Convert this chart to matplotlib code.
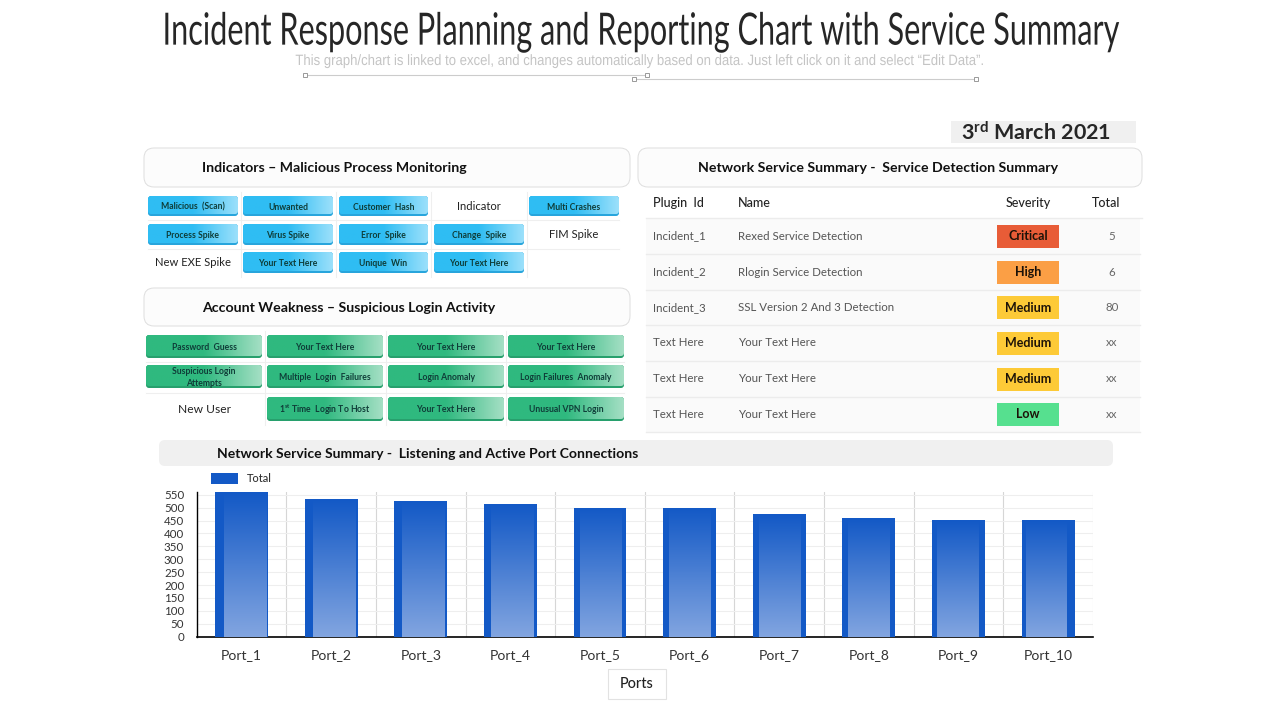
import matplotlib
matplotlib.use("Agg")
import matplotlib.pyplot as plt
import numpy as np
from matplotlib.colors import LinearSegmentedColormap
from matplotlib.patches import FancyBboxPatch, Rectangle
from matplotlib.patheffects import AbstractPathEffect
from matplotlib.transforms import Affine2D

plt.rcParams['font.family'] = ['Lato', 'DejaVu Sans']
plt.rcParams['mathtext.default'] = 'regular'

# Data
title = "Incident Response Planning and Reporting Chart with Service Summary"
subtitle = "This graph/chart is linked to excel, and changes automatically based on data. Just left click on it and select “Edit Data”."
date_label = "3$^{rd}$ March 2021"

ports = ["Port_1", "Port_2", "Port_3", "Port_4", "Port_5", "Port_6", "Port_7", "Port_8", "Port_9", "Port_10"]
totals = [562, 534, 527, 515, 500, 500, 476, 460, 452, 452]
y_ticks = list(range(0, 551, 50))

# "*" in front means plain text without a button
indicators = [
    ["Malicious  (Scan)", "Unwanted", "Customer  Hash", "*Indicator", "Multi Crashes"],
    ["Process Spike", "Virus Spike", "Error  Spike", "Change  Spike", "*FIM Spike"],
    ["*New EXE Spike", "Your Text Here", "Unique  Win", "Your Text Here", ""],
]
logins = [
    ["Password  Guess", "Your Text Here", "Your Text Here", "Your Text Here"],
    ["Suspicious Login\nAttempts", "Multiple  Login  Failures", "Login Anomaly", "Login Failures  Anomaly"],
    ["*New User", "1$^{st}$ Time  Login To Host", "Your Text Here", "Unusual VPN Login"],
]

table_header = ["Plugin  Id", "Name", "Severity", "Total"]
plugin_ids = ["Incident_1", "Incident_2", "Incident_3", "Text Here", "Text Here", "Text Here"]
names = ["Rexed Service Detection", "Rlogin Service Detection", "SSL Version 2 And 3 Detection",
         "Your Text Here", "Your Text Here", "Your Text Here"]
severity = ["Critical", "High", "Medium", "Medium", "Medium", "Low"]
table_totals = ["5", "6", "80", "xx", "xx", "xx"]
severity_colors = {"Critical": "#e85c37", "High": "#fb9f45", "Medium": "#fdca37", "Low": "#56e08f"}


class Squeeze(AbstractPathEffect):
    # No narrow font is installed, so reshape the glyphs around a pixel position
    def __init__(self, center_x, center_y, amount_x, amount_y=1):
        super().__init__()
        self.center = (center_x, center_y)
        self.amount = (amount_x, amount_y)

    def draw_path(self, renderer, gc, tpath, affine, rgbFace=None):
        cx, cy = self.center
        squeeze = Affine2D().translate(-cx, -cy).scale(*self.amount).translate(cx, cy)
        super().draw_path(renderer, gc, tpath, affine + squeeze, rgbFace)


fig = plt.figure(figsize=(12.8, 7.2), dpi=100, facecolor="white")

# Overlay in pixel coordinates for the panels around the chart
bg = fig.add_axes([0, 0, 1, 1])
bg.set_xlim(0, 1280)
bg.set_ylim(720, 0)
bg.axis("off")
bg.set_autoscale_on(False)


def px(size):
    return size * 0.72


def panel(x0, y0, x1, y1, text, text_x, center=False):
    bg.add_patch(FancyBboxPatch((x0 + 8, y0 + 8), x1 - x0 - 16, y1 - y0 - 16,
                                boxstyle="round,pad=8,rounding_size=10", fc="#fcfcfc", ec="#dedede", lw=0.7))
    bg.text(text_x, (y0 + y1) / 2 + 0.5, text, fontsize=px(14.1), color="#111111", va="center", weight="bold",
            ha="center" if center else "left")


def button(x0, y0, x1, y1, text, dark, light, edge, size):
    # darker shape behind gives the bottom edge of the button
    bg.add_patch(FancyBboxPatch((x0 + 3, y0 + 3), x1 - x0 - 6, y1 - y0 - 6,
                                boxstyle="round,pad=3,rounding_size=3", fc=edge, ec="none"))
    face = FancyBboxPatch((x0 + 3, y0 + 3), x1 - x0 - 6, y1 - y0 - 8,
                          boxstyle="round,pad=3,rounding_size=3", fc="none", ec="none")
    bg.add_patch(face)
    cmap = LinearSegmentedColormap.from_list("b", [dark, dark, light])
    im = bg.imshow(np.linspace(0, 1, 64).reshape(1, -1), cmap=cmap, aspect="auto",
                   extent=(x0, x1, y1 - 2, y0), zorder=2)
    im.set_clip_path(face)
    lines = text.split("\n")
    if len(lines) == 2:
        bg.text((x0 + x1) / 2, y0 + 7, lines[0], fontsize=px(size), color="#0f3d38", ha="center", va="center",
                zorder=3, weight="bold")
        bg.text((x0 + x1) / 2, y1 - 5, lines[1], fontsize=px(size), color="#0f3d38", ha="center", va="center",
                zorder=3, weight="bold")
    else:
        bg.text((x0 + x1) / 2, (y0 + y1) / 2 + 1, text, fontsize=px(size), color="#0f3d38", ha="center",
                va="center", zorder=3, weight="bold")


def button_grid(labels, xs, ys, dark, light, edge, size, plain_size):
    for r, row in enumerate(labels):
        for c, label in enumerate(row):
            x0, x1 = xs[c]
            y0, y1 = ys[r]
            if label.startswith("*"):
                bg.text((x0 + x1) / 2, (y0 + y1) / 2 + 0.5, label[1:], fontsize=px(plain_size), color="#222222",
                        ha="center", va="center")
            elif label:
                button(x0, y0, x1, y1, label, dark, light, edge, size)
    # thin separators between the cells
    for c in range(len(xs) - 1):
        mid = (xs[c][1] + xs[c + 1][0]) / 2
        bg.plot([mid, mid], [ys[0][0] - 4, ys[-1][1] + 4], color="#efefef", lw=0.8)
    for r in range(len(ys) - 1):
        mid = (ys[r][1] + ys[r + 1][0]) / 2
        bg.plot([xs[0][0], xs[-1][1]], [mid, mid], color="#efefef", lw=0.8)


# Title block
title_text = bg.text(641, 32, title, fontsize=px(40.5), color="#262626", ha="center", va="center", family="Lato")
title_text.set_path_effects([Squeeze(641, 720 - 32, 0.756, 1.1)])
sub_text = bg.text(640, 61, subtitle, fontsize=px(15), color="#c4c4c4", ha="center", va="center",
                   family="Liberation Sans")
sub_text.set_path_effects([Squeeze(640, 720 - 61, 0.876)])
bg.plot([305, 647], [75, 75], color="#cccccc", lw=0.8)
bg.plot([634, 976], [79, 79], color="#cccccc", lw=0.8)
for hx, hy in [(305, 75), (647, 75), (634, 79), (976, 79)]:
    bg.add_patch(Rectangle((hx - 2, hy - 2), 4, 4, fc="white", ec="#999999", lw=0.7, zorder=3))

# Date
bg.add_patch(Rectangle((951, 121), 185, 22, fc="#f0f0f0", ec="none"))
bg.text(1036, 133, date_label, fontsize=px(21.5), color="#262626", ha="center", va="center", weight="bold")

# Left panels
panel(144, 148, 630, 187, "Indicators – Malicious Process Monitoring", 202)
panel(144, 288, 630, 326, "Account Weakness – Suspicious Login Activity", 202)
blue_x = [(148, 238), (243, 333), (339, 428), (434, 524), (529, 619)]
blue_y = [(196, 216), (224, 245), (252, 273)]
button_grid(indicators, blue_x, blue_y, "#2fbdf3", "#9be0fb", "#28a5dc", 8.6, 11.2)
green_x = [(146, 262), (267, 383), (388, 504), (508, 624)]
green_y = [(335, 358), (365, 388), (397, 421)]
button_grid(logins, green_x, green_y, "#2fb97f", "#a4dfc4", "#27a06d", 8.6, 12)

# Table
panel(638, 148, 1142, 187, "Network Service Summary -  Service Detection Summary", 878, center=True)
col_x = [653, 738]
row_lines = [218, 254, 290, 325, 361, 397, 432]
bg.text(col_x[0], 203, table_header[0], fontsize=px(12.5), color="#222222", va="center", weight="medium")
bg.text(col_x[1], 203, table_header[1], fontsize=px(12.5), color="#222222", va="center", weight="medium")
bg.text(1028, 203, table_header[2], fontsize=px(12.5), color="#222222", va="center", ha="center", weight="medium")
bg.text(1106, 203, table_header[3], fontsize=px(12.5), color="#222222", va="center", ha="center", weight="medium")
bg.plot([646, 1142], [218, 218], color="#ececec", lw=1)
for i in range(len(plugin_ids)):
    top, bottom = row_lines[i], row_lines[i + 1]
    mid = (top + bottom) / 2
    bg.add_patch(Rectangle((646, top), 494, bottom - top, fc="#fafafa", ec="none"))
    bg.plot([646, 1140], [bottom, bottom], color="#ececec", lw=1)
    bg.text(col_x[0], mid, plugin_ids[i], fontsize=px(11.5), color="#555555", va="center")
    bg.text(col_x[1], mid, names[i], fontsize=px(11.5), color="#555555", va="center")
    bg.add_patch(Rectangle((997, mid - 11.5), 62, 23, fc=severity_colors[severity[i]], ec="none", zorder=2))
    bg.text(1028, mid, severity[i], fontsize=px(12.5), color="#1c1208", va="center", ha="center", weight="bold", zorder=3)
    bg.text(1112, mid, table_totals[i], fontsize=px(11.5), color="#666666", va="center", ha="center")

# Chart heading and legend
bg.add_patch(FancyBboxPatch((165, 446), 942, 14, boxstyle="round,pad=6,rounding_size=6", fc="#f0f0f0", ec="none"))
bg.text(217, 453.5, "Network Service Summary -  Listening and Active Port Connections", fontsize=px(14),
        color="#111111", va="center", weight="bold")
bg.add_patch(Rectangle((211, 473), 27, 11, fc="#1359c6", ec="none"))
bg.text(247, 478.5, "Total", fontsize=px(11), color="#333333", va="center", weight="medium")
bg.add_patch(Rectangle((608, 669), 58, 30, fc="white", ec="#e2e2e2", lw=0.8))
bg.text(637, 684, "Ports", fontsize=px(14.5), color="#222222", ha="center", va="center", weight="medium")

# Bar chart
ax = fig.add_axes([196.7 / 1280, 1 - 636.7 / 720, (1093 - 196.7) / 1280, 145 / 720])
ax.patch.set_alpha(0)
xs = np.arange(len(ports))
bars = ax.bar(xs, totals, width=0.59, color="#1359c6", zorder=3)
gradient = LinearSegmentedColormap.from_list("g", ["#1359c6", "#82a5e0"])
# the lighter inner part drifts right to left along the chart
left_strip = np.linspace(0.10, 0.045, len(ports))
right_strip = np.linspace(0.012, 0.09, len(ports))
for i, bar in enumerate(bars):
    inner = Rectangle((bar.get_x() + left_strip[i], 0), bar.get_width() - left_strip[i] - right_strip[i], totals[i],
                      transform=ax.transData)
    im = ax.imshow(np.linspace(0, 1, 128).reshape(-1, 1), cmap=gradient, aspect="auto", zorder=4,
                   extent=(bar.get_x(), bar.get_x() + bar.get_width(), 0, totals[i]))
    im.set_clip_path(inner)
ax.set_xlim(-0.5, len(ports) - 0.5)
ax.set_ylim(0, 562)

ax.set_yticks(y_ticks)
ax.set_xticks(xs)
ax.set_xticklabels(ports, fontsize=px(14), color="#333333")
ax.tick_params(axis="x", length=0, pad=9)
ax.tick_params(axis="y", length=0, pad=9, labelsize=px(11.5), labelcolor="#333333")
ax.grid(axis="y", color="#eeeeee", lw=0.8, zorder=0)
for b in xs[:-1] + 0.5:
    ax.axvline(b, color="#d6d6d6", lw=0.8, zorder=1)
ax.axvline(len(ports) - 0.5, color="#e4e4e4", lw=0.8, zorder=1)
for s in ["top", "right"]:
    ax.spines[s].set_visible(False)
ax.spines["left"].set_linewidth(1)
ax.spines["bottom"].set_linewidth(1.2)

fig.savefig("out.png", dpi=100)
